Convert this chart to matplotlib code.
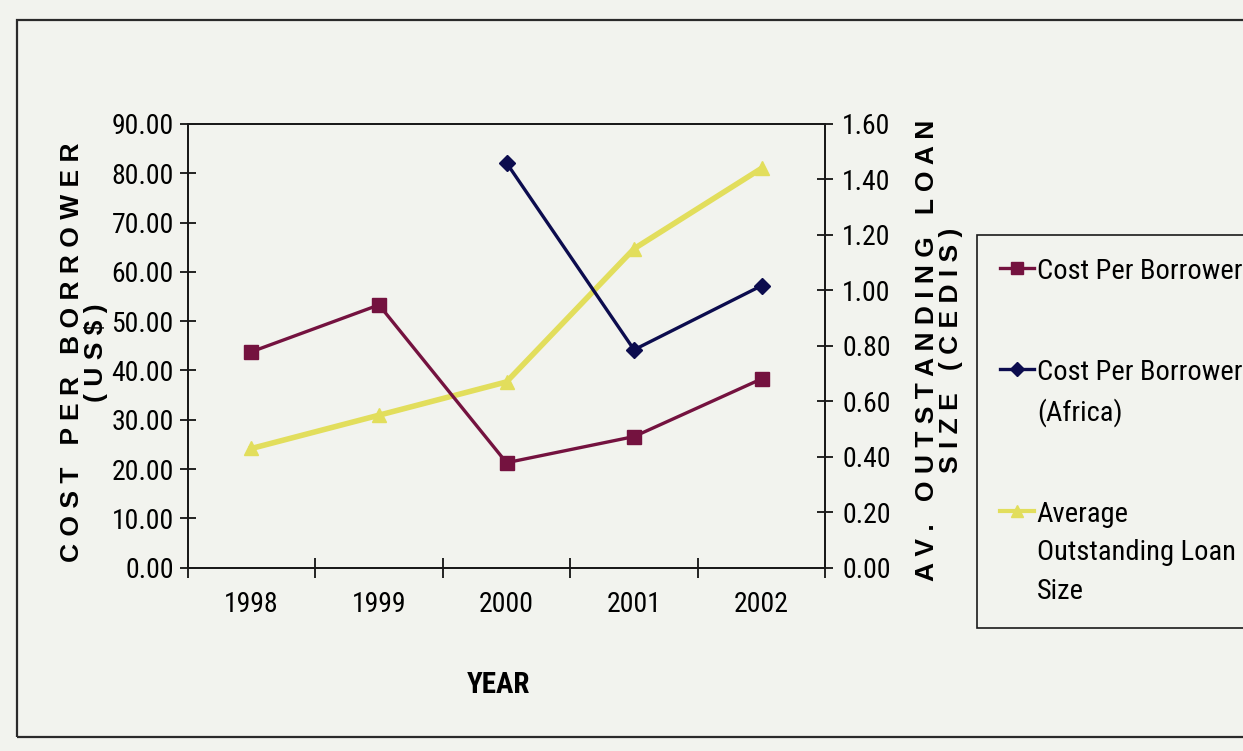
import numpy as np
import matplotlib
matplotlib.use("Agg")
import matplotlib.pyplot as plt
from matplotlib import font_manager
from matplotlib.lines import Line2D
from matplotlib.patches import Rectangle

# values per year
years = ["1998", "1999", "2000", "2001", "2002"]
cost_per_borrower = [43.8, 53.3, 21.3, 26.6, 38.3]          # US$
cost_per_borrower_africa = [np.nan, np.nan, 82.1, 44.2, 57.2]  # US$
avg_loan_size = [0.43, 0.55, 0.67, 1.15, 1.44]              # cedis

left_ticks = np.arange(0, 91, 10)
right_ticks = np.arange(0, 1.61, 0.2)

installed = {f.name for f in font_manager.fontManager.ttflist}
narrow = next(n for n in ["Roboto Condensed", "Archivo Narrow", "Liberation Sans"] if n in installed)
wide = "Liberation Sans"

paper = "#f2f3ee"
plot_bg = "#a9aaaa"
c_cost = "#74123f"
c_africa = "#0c0c4e"
c_loan = "#e2de5c"

fig = plt.figure(figsize=(12.43, 7.51), dpi=100, facecolor=paper)
ax = fig.add_axes([0.151, 0.244, 0.513, 0.591])
ax2 = ax.twinx()

# yellow series sits under the other two lines
ax.set_zorder(ax2.get_zorder() + 1)
ax.patch.set_visible(False)
ax2.patch.set_facecolor(plot_bg)

x = np.arange(len(years))
ax.plot(x, cost_per_borrower, color=c_cost, lw=2.4, marker="s", ms=9.5,
        label="Cost Per Borrower")
ax.plot(x, cost_per_borrower_africa, color=c_africa, lw=2.4, marker="D", ms=8.5,
        label="Cost Per Borrower\n(Africa)")
ax2.plot(x, avg_loan_size, color=c_loan, lw=4, marker="^", ms=10.5,
         label="Average\nOutstanding Loan\nSize")

ax.set_xlim(-0.5, len(years) - 0.5)
ax.set_ylim(0, 90)
ax2.set_ylim(0, 1.6)
ax.set_yticks(left_ticks)
ax.set_yticklabels([f"{v:.2f}" for v in left_ticks])
ax2.set_yticks(right_ticks)
ax2.set_yticklabels([f"{v:.2f}" for v in right_ticks])

# tick marks between categories, labels at the centres
ax.set_xticks(np.arange(-0.5, len(years), 1.0))
ax.set_xticklabels([])
ax.set_xticks(x, minor=True)
ax.set_xticklabels(years, minor=True)
ax.tick_params(axis="x", which="major", direction="inout", length=14, width=1.2)
ax.tick_params(axis="x", which="minor", length=0, pad=17)
ax.tick_params(axis="y", direction="inout", length=12, width=1.2, pad=4)
ax2.tick_params(axis="y", direction="inout", length=12, width=1.2, pad=6)

for a in (ax, ax2):
    for s in a.spines.values():
        s.set_linewidth(1.4)
        s.set_color("#1a1a1a")
    for lab in a.get_yticklabels() + a.get_xticklabels(minor=True):
        lab.set_fontfamily(narrow)
        lab.set_fontsize(20)

ax.text(-0.162, 0.485, "C O S T   P E R   B O R R O W E R\n( U S $ )",
        transform=ax.transAxes, rotation=90, ha="center", va="center",
        family=wide, weight="bold", fontsize=19, linespacing=1.0, multialignment="center")
ax.text(1.179, 0.49, "A V .   O U T S T A N D I N G   L O A N\nS I Z E   ( C E D I S )",
        transform=ax.transAxes, rotation=90, ha="center", va="center",
        family=wide, weight="bold", fontsize=19, linespacing=1.0, multialignment="center")
ax.text(0.487, -0.265, "YEAR", transform=ax.transAxes, ha="center", va="center",
        family=narrow, weight="bold", fontsize=21)

handles = [
    Line2D([], [], color=c_cost, lw=2.4, marker="s", ms=8),
    Line2D([], [], color=c_africa, lw=2.4, marker="D", ms=7),
    Line2D([], [], color=c_loan, lw=3, marker="^", ms=9),
]
labels = ["Cost Per Borrower", "Cost Per Borrower\n(Africa)", "Average\nOutstanding Loan\nSize"]
leg = fig.legend(handles, labels, loc="upper left", bbox_to_anchor=(977 / 1243, 1 - 235 / 751),
                 bbox_transform=fig.transFigure, frameon=True, fancybox=False,
                 edgecolor="#1a1a1a", facecolor=paper, framealpha=1,
                 prop={"family": narrow, "size": 20.5}, numpoints=1,
                 handlelength=1.2, handletextpad=0.1, borderpad=0.8,
                 labelspacing=2.6, borderaxespad=0)
leg.get_frame().set_linewidth(1.2)
for t in leg.get_texts():
    t.set_linespacing(1.55)
# put each legend line beside the first line of its label
for column in leg._legend_handle_box.get_children():
    for item in column.get_children():
        item.align = "top"

# outer chart border
fig.patches.append(Rectangle((0.014, 0.019), 1.2, 0.955, transform=fig.transFigure,
                             fill=False, edgecolor="#2a2a2a", lw=1.6))

fig.savefig("out.png", dpi=100, facecolor=paper)
